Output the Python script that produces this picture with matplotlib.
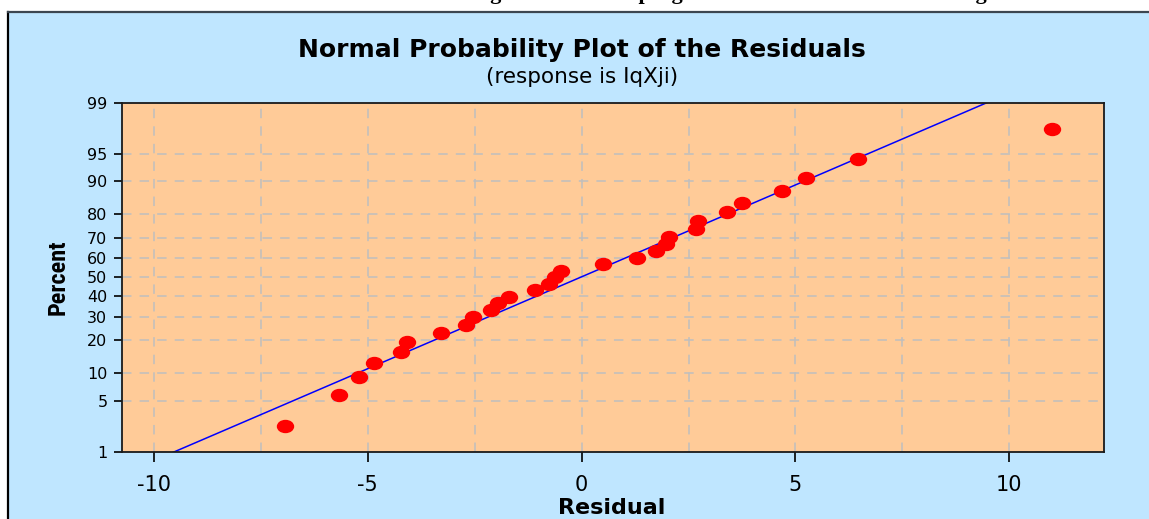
import numpy as np
import matplotlib
matplotlib.use("Agg")
import matplotlib.pyplot as plt
from matplotlib.patches import Rectangle
from matplotlib.lines import Line2D
from matplotlib.path import Path
from matplotlib.transforms import Affine2D
from statistics import NormalDist

# residuals (sorted) and their plotted percents
residuals = [-6.93, -5.66, -5.19, -4.86, -4.21, -4.07, -3.28, -2.71, -2.53, -2.11,
             -1.96, -1.69, -1.08, -0.75, -0.61, -0.47, 0.51, 1.30, 1.73, 1.97,
             2.05, 2.67, 2.71, 3.41, 3.74, 4.68, 5.24, 6.45, 10.99]
percents = [2.4, 5.8, 9.2, 12.6, 16.0, 19.4, 22.8, 26.2, 29.6, 33.0,
            36.4, 39.8, 43.2, 46.6, 50.0, 53.4, 56.8, 60.2, 63.6, 67.0,
            70.4, 73.8, 77.2, 80.6, 84.0, 87.4, 90.8, 94.2, 97.6]

# fitted normal line
line_mean = -0.02
line_sd = 4.08
line_pct = [0.5, 99.5]

x_ticks = [-10, -5, 0, 5, 10]
x_grid = [-7.5, -2.5, 2.5, 7.5]
y_ticks = [1, 5, 10, 20, 30, 40, 50, 60, 70, 80, 90, 95, 99]

W, H = 1149, 519
_nd = NormalDist()


def pct_to_z(p):
    p = np.clip(np.asarray(p, dtype=float) / 100.0, 1e-9, 1 - 1e-9)
    f = np.vectorize(lambda v: _nd.inv_cdf(v) if np.isfinite(v) else np.nan, otypes=[float])
    return f(p)


def z_to_pct(z):
    z = np.asarray(z, dtype=float)
    return np.vectorize(_nd.cdf, otypes=[float])(z) * 100.0


fig = plt.figure(figsize=(W / 100, H / 100), dpi=100)
fig.patch.set_facecolor("white")

# light blue panel with border
top = (H - 12) / H
fig.patches.append(Rectangle((8 / W, 0), 1, top, transform=fig.transFigure,
                             facecolor="#BFE6FF", edgecolor="none", zorder=-5))
fig.add_artist(Line2D([8 / W, 8 / W], [0, top], color="black", lw=1.6, zorder=-4))
fig.add_artist(Line2D([8 / W, 1], [top, top], color="#3c4650", lw=1.6, zorder=-4))

# cut-off line of the surrounding document text (only its lower edge is visible)
fig.text(-3 / W, 1 + 0.5 / H,
         "sources. From the model estimation results and using the statistical program Minitab as shown in the figure below",
         family="Liberation Serif", fontweight="bold", fontsize=16, va="baseline", ha="left")

ax = fig.add_axes([122 / W, 1 - 451.7 / H, (1104 - 122) / W, (451.7 - 102.7) / H], zorder=2)
ax.set_facecolor("#FFCB98")
ax.set_yscale("function", functions=(pct_to_z, z_to_pct))
ax.set_ylim(1, 99)
ax.set_xlim(-10.74, 12.21)

ax.set_xticks(x_ticks)
ax.set_xticks(x_grid, minor=True)
ax.set_xticklabels([str(t) for t in x_ticks])
ax.set_yticks(y_ticks)
ax.set_yticklabels([str(t) for t in y_ticks])
ax.yaxis.set_minor_locator(matplotlib.ticker.NullLocator())

ax.tick_params(axis="x", which="major", labelsize=15, length=7, width=1.2, pad=10, colors="black")
ax.tick_params(axis="x", which="minor", length=0)
ax.tick_params(axis="y", labelsize=11.5, length=5.5, width=1.2, pad=5, colors="black")

ax.grid(True, axis="x", which="both", color="#bfbfbf", lw=1.1, linestyle=(0, (6.2, 5.3)))
ax.grid(True, axis="y", which="major", color="#bfbfbf", lw=1.1, linestyle=(0, (6.2, 5.3)))
ax.set_axisbelow(True)

for side in ["left", "right", "top", "bottom"]:
    ax.spines[side].set_linewidth(1.3)
    ax.spines[side].set_color("#1a1a1a")

# fitted line
lz = pct_to_z(line_pct)
ax.plot(line_mean + line_sd * lz, line_pct, color="#0000FF", lw=1.1, zorder=2)

# residual points
ellipse = Path.unit_circle().transformed(Affine2D().scale(1.0, 0.75))
ax.plot(residuals, percents, linestyle="none", marker=ellipse, markersize=11.5,
        color="#FF0000", markeredgecolor="#FF0000", zorder=3)

fig.text(582 / W, 1 - 50 / H, "Normal Probability Plot of the Residuals",
         ha="center", va="center", fontsize=18, fontweight="bold")
fig.text(582 / W, 1 - 77 / H, "(response is IqXji)", ha="center", va="center", fontsize=15.5)
fig.text(612 / W, 1 - 508 / H, "Residual", ha="center", va="center", fontsize=16, fontweight="bold")
fig.text(58 / W, 1 - 277 / H, "Percent", ha="center", va="center", rotation=90,
         family=["Liberation Sans Narrow", "Roboto Condensed", "Roboto"],
         fontweight="bold", fontsize=17.5)

fig.savefig("out.png", dpi=100, facecolor=fig.get_facecolor())
